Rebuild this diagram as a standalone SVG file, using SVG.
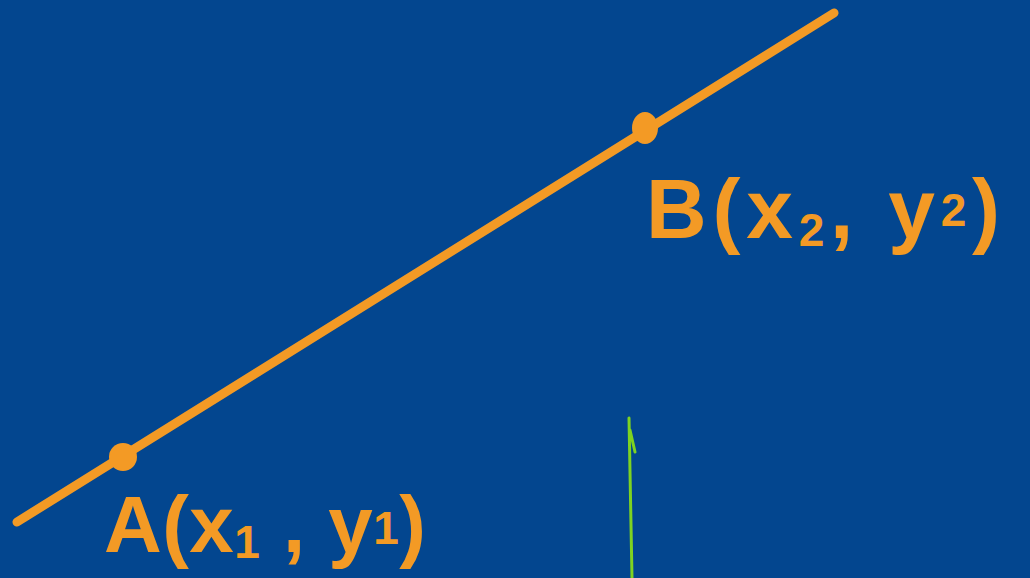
<svg xmlns="http://www.w3.org/2000/svg" width="1030" height="578" viewBox="0 0 1030 578">
<style>
.lbl{font-family:"Liberation Sans",sans-serif;fill:#f39a25;font-weight:bold;}
.sub{font-size:46px;}
</style>
<rect width="1030" height="578" fill="#03468f"/>
<g id="line">
<line x1="17" y1="522" x2="834" y2="13" stroke="#f39a25" stroke-width="9" stroke-linecap="round"/>
</g>
<g id="pointA">
<ellipse cx="123" cy="457" rx="14" ry="14" fill="#f39a25"/>
<text class="lbl" x="104" y="552" font-size="80" textLength="322" lengthAdjust="spacing">A(x<tspan class="sub" dy="6">1</tspan><tspan dy="-6"> , y</tspan><tspan class="sub" dy="-8">1</tspan><tspan dy="8">)</tspan></text>
</g>
<g id="pointB">
<ellipse cx="645" cy="128" rx="13" ry="16" fill="#f39a25"/>
<text class="lbl" x="646" y="238" font-size="84" textLength="354" lengthAdjust="spacing">B(x<tspan class="sub" dy="8">2</tspan><tspan dy="-8">, y</tspan><tspan class="sub" dy="-12">2</tspan><tspan dy="12">)</tspan></text>
</g>
<g id="axis">
<path d="M629,418 L632,578 M630,430 L635,452" stroke="#7ed321" stroke-width="3" fill="none" stroke-linecap="round"/>
</g>
</svg>
